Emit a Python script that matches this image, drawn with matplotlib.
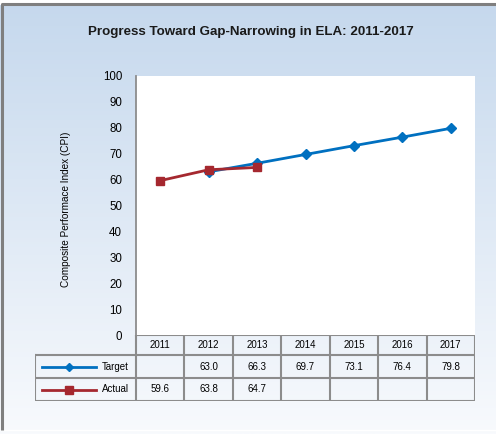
import numpy as np
import matplotlib
matplotlib.use("Agg")
import matplotlib.pyplot as plt
from matplotlib.patches import Rectangle
from matplotlib.lines import Line2D

years = ["2011", "2012", "2013", "2014", "2015", "2016", "2017"]
target = [np.nan, 63.0, 66.3, 69.7, 73.1, 76.4, 79.8]
actual = [59.6, 63.8, 64.7, np.nan, np.nan, np.nan, np.nan]
series_names = ["Target", "Actual"]
yticks = [0, 10, 20, 30, 40, 50, 60, 70, 80, 90, 100]

blue = "#0070c0"
red = "#a5282f"
grid_gray = "#8c8c8c"

plt.rcParams["font.family"] = ["Liberation Sans Narrow", "Liberation Sans", "DejaVu Sans"]

W, H = 496, 434
fig = plt.figure(figsize=(W / 100, H / 100), dpi=100)


def fx(px):
    return px / W


def fy(py):
    return 1 - py / H


# gradient background
bg = fig.add_axes([0, 0, 1, 1], zorder=-5)
grad = np.linspace(0, 1, 256).reshape(-1, 1)
top_c = np.array([0xc5, 0xd8, 0xed]) / 255
bot_c = np.array([0xf8, 0xfa, 0xfd]) / 255
img = top_c[None, None, :] * (1 - grad[:, :, None]) + bot_c[None, None, :] * grad[:, :, None]
bg.imshow(img, aspect="auto", extent=[0, 1, 0, 1])
bg.set_xlim(0, 1)
bg.set_ylim(0, 1)
bg.axis("off")
bg.add_patch(Rectangle((fx(0), fy(0)), 1, fy(4) - fy(0), color="white", transform=bg.transAxes))
bg.add_patch(Rectangle((fx(0), fy(430)), 1, fy(434) - fy(430) + 0.01, color="white", transform=bg.transAxes))
bg.plot([fx(2), fx(2), fx(500)], [fy(430), fy(4), fy(4)], color="#7f7f7f", lw=2.2,
        transform=bg.transAxes, solid_capstyle="butt")

fig.text(fx(251), fy(32), "Progress Toward Gap-Narrowing in ELA: 2011-2017",
         ha="center", va="center", fontsize=9.6, fontweight="bold", color="#1a1a1a")

# plot area
L, R, T, B = 136, 475, 76, 335
ax = fig.add_axes([fx(L), fy(B), fx(R) - fx(L), fy(T) - fy(B)])
x = np.arange(len(years))
ax.plot(x, target, color=blue, lw=2, marker="D", ms=5.5, zorder=3)
ax.plot(x, actual, color=red, lw=2, marker="s", ms=5.5, zorder=4)
ax.set_xlim(-0.5, len(years) - 0.5)
ax.set_ylim(0, 100)
ax.set_yticks(yticks)
ax.set_xticks([])
ax.tick_params(axis="y", length=0, pad=10, labelsize=8.3)
for s in ["top", "right", "bottom"]:
    ax.spines[s].set_visible(False)
ax.spines["left"].set_color(grid_gray)
ax.spines["left"].set_linewidth(1.3)
fig.text(fx(66), fy(209), "Composite Performace Index (CPI)", rotation=90,
         ha="center", va="center", fontsize=7.2)

# data table under the plot
TL, TB = 35, 401
tab = fig.add_axes([fx(TL), fy(TB), fx(R) - fx(TL), fy(B) - fy(TB)])
colw = (R - L) / len(years)


def ux(px):
    return -0.5 + (px - L) / colw


tab.set_xlim(ux(TL), len(years) - 0.5)
tab.set_ylim(TB - B, 0)
tab.axis("off")
rows = [0, 20, 43, 66]
lkw = dict(color=grid_gray, lw=1.5, solid_capstyle="projecting")
# horizontal lines
tab.plot([-0.5, len(years) - 0.5], [rows[0], rows[0]], **lkw)
for r in rows[1:]:
    tab.plot([ux(TL), len(years) - 0.5], [r, r], **lkw)
# vertical lines
for c in range(len(years) + 1):
    tab.plot([c - 0.5, c - 0.5], [rows[0], rows[3]], **lkw)
tab.plot([ux(TL), ux(TL)], [rows[1], rows[3]], **lkw)

for i, yr in enumerate(years):
    tab.text(i, (rows[0] + rows[1]) / 2, yr, ha="center", va="center", fontsize=7)

for k, (vals, col, mk) in enumerate([(target, blue, "D"), (actual, red, "s")]):
    yc = (rows[k + 1] + rows[k + 2]) / 2
    tab.add_line(Line2D([ux(42), ux(96)], [yc, yc], color=col, lw=2))
    tab.plot([ux(69)], [yc], marker=mk, color=col, ms=4.5 if mk == "D" else 5.5)
    tab.text(ux(129), yc, series_names[k], ha="right", va="center", fontsize=7)
    for i, v in enumerate(vals):
        if not np.isnan(v):
            tab.text(i, yc, f"{v:.1f}", ha="center", va="center", fontsize=7)

fig.savefig("out.png", dpi=100)
